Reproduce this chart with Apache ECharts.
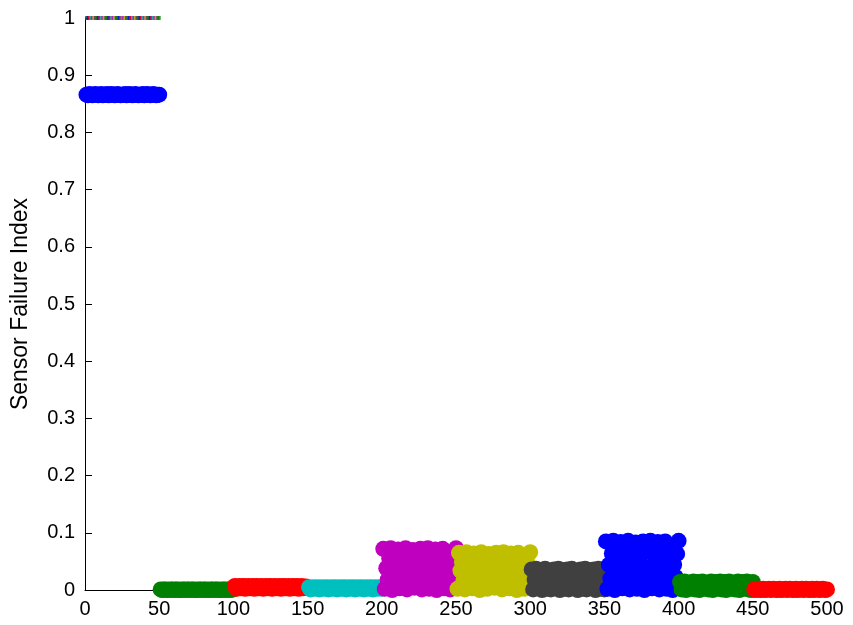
<!DOCTYPE html>
<html>
<head>
<meta charset="utf-8">
<script src="https://cdn.jsdelivr.net/npm/echarts@6/dist/echarts.min.js"></script>
<style>
  html, body { margin: 0; padding: 0; background: #fff; }
  #chart { width: 853px; height: 625px; }
</style>
</head>
<body>
<div id="chart"></div>
<script>
// Sensor failure index per sample, 50 samples per sensor (10 sensors)
const xTicks = [0, 50, 100, 150, 200, 250, 300, 350, 400, 450, 500];
const yTicks = [0, 0.1, 0.2, 0.3, 0.4, 0.5, 0.6, 0.7, 0.8, 0.9, 1];
const samplesPerSensor = 50;

const sensorColors = ['#0000ff', '#008000', '#ff0000', '#00bfbf', '#bf00bf',
                      '#bfbf00', '#404040', '#0000ff', '#008000', '#ff0000'];

const sensor1 = [0.866,0.865,0.867,0.866,0.865,0.866,0.867,0.866,0.865,0.866,
                 0.867,0.865,0.866,0.866,0.867,0.865,0.866,0.867,0.866,0.865,
                 0.866,0.867,0.866,0.865,0.866,0.866,0.867,0.865,0.866,0.867,
                 0.866,0.865,0.866,0.867,0.866,0.865,0.866,0.866,0.867,0.865,
                 0.866,0.867,0.866,0.865,0.866,0.867,0.866,0.865,0.866,0.866];
const sensor2 = [0.001,0.000,0.001,0.001,0.000,0.001,0.000,0.001,0.001,0.000,
                 0.001,0.001,0.000,0.001,0.000,0.001,0.001,0.000,0.001,0.001,
                 0.000,0.001,0.001,0.000,0.001,0.000,0.001,0.001,0.000,0.001,
                 0.001,0.000,0.001,0.000,0.001,0.001,0.000,0.001,0.001,0.000,
                 0.001,0.000,0.001,0.001,0.000,0.001,0.001,0.000,0.001,0.001];
const sensor3 = [0.007,0.002,0.005,0.007,0.003,0.006,0.007,0.002,0.004,0.007,
                 0.003,0.005,0.007,0.002,0.006,0.007,0.003,0.004,0.007,0.002,
                 0.005,0.007,0.003,0.006,0.007,0.002,0.004,0.007,0.003,0.005,
                 0.007,0.002,0.006,0.007,0.003,0.004,0.007,0.002,0.005,0.007,
                 0.003,0.006,0.007,0.002,0.004,0.007,0.003,0.005,0.006,0.004];
const sensor4 = [0.005,0.001,0.003,0.005,0.002,0.004,0.005,0.001,0.003,0.005,
                 0.002,0.004,0.005,0.001,0.003,0.005,0.002,0.004,0.005,0.001,
                 0.003,0.005,0.002,0.004,0.005,0.001,0.003,0.005,0.002,0.004,
                 0.005,0.001,0.003,0.005,0.002,0.004,0.005,0.001,0.003,0.005,
                 0.002,0.004,0.005,0.001,0.003,0.005,0.002,0.004,0.005,0.002];
const sensor5 = [0.072,0.002,0.038,0.018,0.055, 0.073,0.000,0.035,0.021,0.057,
                 0.071,0.003,0.039,0.017,0.053, 0.073,0.001,0.036,0.020,0.056,
                 0.070,0.004,0.040,0.019,0.054, 0.072,0.001,0.034,0.022,0.058,
                 0.073,0.002,0.037,0.016,0.055, 0.071,0.000,0.039,0.020,0.052,
                 0.072,0.003,0.036,0.018,0.056, 0.001,0.038,0.021,0.054,0.073];
const sensor6 = [0.002,0.065,0.034,0.049,0.016, 0.001,0.066,0.031,0.051,0.018,
                 0.003,0.064,0.035,0.047,0.015, 0.000,0.066,0.032,0.050,0.019,
                 0.002,0.063,0.036,0.048,0.017, 0.004,0.065,0.030,0.052,0.016,
                 0.001,0.066,0.033,0.049,0.020, 0.003,0.064,0.034,0.046,0.014,
                 0.000,0.065,0.031,0.051,0.018, 0.002,0.035,0.048,0.017,0.066];
const sensor7 = [0.036,0.001,0.018, 0.037,0.003,0.020, 0.035,0.000,0.016,
                 0.037,0.002,0.019, 0.034,0.001,0.021, 0.036,0.003,0.017,
                 0.037,0.000,0.018, 0.035,0.002,0.015, 0.036,0.001,0.020,
                 0.037,0.003,0.019, 0.034,0.000,0.017, 0.036,0.002,0.021,
                 0.037,0.001,0.018, 0.035,0.003,0.016, 0.036,0.000,0.019,
                 0.037,0.002,0.020, 0.035,0.001];
const sensor8 = [0.085,0.002,0.044,0.020,0.064, 0.086,0.000,0.041,0.023,0.066,
                 0.084,0.003,0.045,0.019,0.062, 0.086,0.001,0.042,0.024,0.065,
                 0.083,0.002,0.046,0.021,0.063, 0.085,0.000,0.040,0.022,0.067,
                 0.086,0.003,0.043,0.018,0.064, 0.084,0.001,0.047,0.025,0.061,
                 0.085,0.002,0.042,0.020,0.066, 0.000,0.044,0.023,0.063,0.086];
const sensor9 = [0.014,0.001,0.008,0.015,0.000,0.011,0.013,0.002,0.005,0.015,
                 0.001,0.009,0.014,0.000,0.012,0.015,0.002,0.004,0.013,0.001,
                 0.010,0.015,0.000,0.007,0.014,0.002,0.013,0.015,0.001,0.006,
                 0.014,0.000,0.011,0.015,0.002,0.003,0.013,0.001,0.009,0.015,
                 0.000,0.012,0.014,0.002,0.005,0.015,0.001,0.010,0.000,0.014];
const sensor10 = [0.001,0.000,0.002,0.001,0.000,0.001,0.002,0.000,0.001,0.001,
                  0.002,0.000,0.001,0.002,0.001,0.000,0.001,0.002,0.000,0.001,
                  0.001,0.002,0.000,0.001,0.002,0.001,0.000,0.001,0.002,0.000,
                  0.001,0.001,0.002,0.000,0.001,0.002,0.001,0.000,0.001,0.002,
                  0.000,0.001,0.002,0.001,0.000,0.001,0.002,0.001,0.000,0.001];

// reference level: all sensors healthy (index 1) over the first 50 samples
const referenceLevel = [1,1,1,1,1,1,1,1,1,1, 1,1,1,1,1,1,1,1,1,1,
                        1,1,1,1,1,1,1,1,1,1, 1,1,1,1,1,1,1,1,1,1,
                        1,1,1,1,1,1,1,1,1,1];
const referenceColors = ['#008000', '#0000ff', '#ff0000', '#00bfbf', '#bf00bf', '#bfbf00', '#404040'];

const sensors = [sensor1, sensor2, sensor3, sensor4, sensor5,
                 sensor6, sensor7, sensor8, sensor9, sensor10];

const fontFamily = 'Liberation Sans, Arial, Helvetica, sans-serif';

const series = sensors.map((vals, s) => ({
  type: 'scatter',
  clip: false,
  symbol: 'circle',
  symbolSize: 16,
  itemStyle: { color: sensorColors[s], opacity: 1 },
  data: vals.map((v, i) => [s * samplesPerSensor + i + 1, v]),
  silent: true
}));

series.push({
  type: 'scatter',
  clip: false,
  symbol: 'rect',
  symbolSize: [3, 4],
  data: referenceLevel.map((v, i) => ({
    value: [i + 1, v],
    itemStyle: { color: referenceColors[i % referenceColors.length] }
  })),
  silent: true,
  z: 5
});

const chart = echarts.init(document.getElementById('chart'), null, { renderer: 'canvas' });
chart.setOption({
  animation: false,
  backgroundColor: '#ffffff',
  textStyle: { fontFamily },
  grid: { left: 85, right: 26, top: 18, bottom: 35, containLabel: false, outerBoundsMode: 'none' },
  xAxis: {
    type: 'value',
    min: xTicks[0],
    max: xTicks[xTicks.length - 1],
    interval: xTicks[1] - xTicks[0],
    axisLine: { show: true, onZero: false, lineStyle: { color: '#000', width: 1 } },
    axisTick: { show: true, inside: true, length: 7, lineStyle: { color: '#000' } },
    axisLabel: { color: '#000', fontSize: 20, margin: 9, fontFamily },
    splitLine: { show: false }
  },
  yAxis: {
    type: 'value',
    min: yTicks[0],
    max: yTicks[yTicks.length - 1],
    interval: 0.1,
    name: 'Sensor Failure Index',
    nameLocation: 'middle',
    nameGap: 53,
    nameTextStyle: { color: '#000', fontSize: 23, fontFamily },
    axisLine: { show: true, onZero: false, lineStyle: { color: '#000', width: 1 } },
    axisTick: { show: true, inside: true, length: 7, lineStyle: { color: '#000' } },
    axisLabel: { color: '#000', fontSize: 20, margin: 10, fontFamily,
                 formatter: v => String(Math.round(v * 10) / 10) },
    splitLine: { show: false }
  },
  series
});
</script>
</body>
</html>
